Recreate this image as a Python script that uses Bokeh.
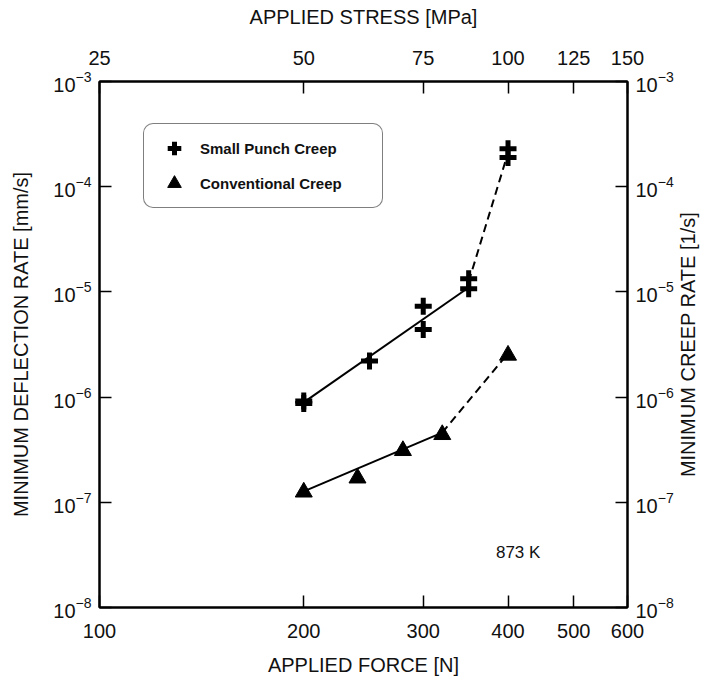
import math
from bokeh.plotting import figure
from bokeh.models import (LogAxis, Range1d, LogScale, FixedTicker, BasicTickFormatter,
                          Legend, LegendItem, Label)
from bokeh.embed import file_html
from bokeh.resources import INLINE

# ---------------- data ----------------
force_ticks = [100, 200, 300, 400, 500, 600]
stress_ticks = [25, 50, 75, 100, 125, 150]
rate_ticks = [1e-8, 1e-7, 1e-6, 1e-5, 1e-4, 1e-3]

sp_force = [200, 200, 250, 300, 300, 350, 350, 400, 400]
sp_rate = [8.7e-7, 9.2e-7, 2.2e-6, 7.3e-6, 4.4e-6, 1.33e-5, 1.07e-5, 2.3e-4, 1.9e-4]

cc_force = [200, 240, 280, 320, 400]
cc_rate = [1.25e-7, 1.7e-7, 3.1e-7, 4.4e-7, 2.5e-6]

sp_fit_force = [200, 350]
sp_fit_rate = [8.9e-7, 1.1e-5]
sp_trend_force = [350, 400]
sp_trend_rate = [1.25e-5, 2.1e-4]

cc_fit_force = [200, 320]
cc_fit_rate = [1.27e-7, 4.6e-7]
cc_trend_force = [320, 400]
cc_trend_rate = [4.6e-7, 2.6e-6]

temp_label = "873 K"
temp_pos = (414, 3.3e-8)

right_title = "MINIMUM CREEP RATE [1/s]"

FONT = "Liberation Sans"

p = figure(width=708, height=678, x_axis_type="log", y_axis_type="log",
           x_range=Range1d(100, 600), y_range=Range1d(1e-8, 1e-3),
           output_backend="svg", toolbar_location=None,
           min_border_left=99, min_border_right=81, min_border_top=81, min_border_bottom=71,
           background_fill_color="white", border_fill_color="white")
p.grid.visible = False
p.outline_line_color = "black"
p.outline_line_width = 2

bottom = p.below[0]
left = p.left[0]

p.extra_x_ranges = {"stress": Range1d(25, 150)}
p.extra_x_scales = {"stress": LogScale()}
p.extra_y_ranges = {"creep": Range1d(1e-8, 1e-3)}
p.extra_y_scales = {"creep": LogScale()}

top = LogAxis(x_range_name="stress", ticker=FixedTicker(ticks=stress_ticks),
              formatter=BasicTickFormatter(use_scientific=False),
              axis_label="APPLIED STRESS [MPa]")
p.add_layout(top, "above")
right = LogAxis(y_range_name="creep", ticker=FixedTicker(ticks=rate_ticks))
p.add_layout(right, "right")

bottom.ticker = FixedTicker(ticks=force_ticks)
bottom.formatter = BasicTickFormatter(use_scientific=False)
bottom.axis_label = "APPLIED FORCE [N]"
left.ticker = FixedTicker(ticks=rate_ticks)
left.axis_label = "MINIMUM DEFLECTION RATE [mm/s]"

for ax in [bottom, left, top, right]:
    ax.major_tick_in = 12
    ax.major_tick_out = 0
    ax.minor_tick_in = 0
    ax.minor_tick_out = 0
    ax.minor_tick_line_color = None
    ax.axis_line_width = 2
    ax.axis_line_color = "black"
    ax.major_tick_line_width = 1.5
    ax.major_tick_line_color = "black"
    ax.major_label_text_font = FONT
    ax.major_label_text_font_size = "20px"
    ax.major_label_text_color = "#111111"
    ax.axis_label_text_font = FONT
    ax.axis_label_text_font_size = "20px"
    ax.axis_label_text_font_style = "normal"
    ax.axis_label_text_color = "#111111"

bottom.major_label_standoff = 16
bottom.axis_label_standoff = 13
top.major_label_standoff = 17
top.axis_label_standoff = 20
left.major_label_standoff = 8
left.axis_label_standoff = 18
right.major_label_standoff = 8

# lines
p.line(sp_fit_force, sp_fit_rate, line_color="black", line_width=2)
p.line(sp_trend_force, sp_trend_rate, line_color="black", line_width=2, line_dash="8 5")
p.line(cc_fit_force, cc_fit_rate, line_color="black", line_width=2)
p.line(cc_trend_force, cc_trend_rate, line_color="black", line_width=2, line_dash="8 5")

r_sp = p.scatter(sp_force, sp_rate, marker="cross", size=17, line_width=5, line_color="black")
r_cc = p.scatter(cc_force, cc_rate, marker="triangle", size=17, fill_color="black", line_color="black")

p.add_layout(Label(x=temp_pos[0], y=temp_pos[1], text=temp_label, text_font=FONT,
                   text_font_size="17px", text_align="center", text_baseline="middle",
                   text_color="#111111"))

p.add_layout(Label(x=11, y=263, x_units="screen", y_units="screen", text=right_title,
                   text_font=FONT, text_font_size="20px", text_align="center",
                   text_baseline="middle", angle=math.pi / 2, text_color="#111111"), "right")

legend = Legend(items=[LegendItem(label="Small Punch Creep", renderers=[r_sp]),
                       LegendItem(label="Conventional Creep", renderers=[r_cc])],
                location=(44, 399), padding=7, spacing=1, glyph_height=34, glyph_width=46,
                label_standoff=3, label_width=175, label_height=20,
                label_text_font=FONT, label_text_font_size="15px", label_text_font_style="bold",
                label_text_color="#111111",
                border_line_color="black", border_line_width=1.5,
                background_fill_color="white", background_fill_alpha=1.0)
if "border_radius" in Legend.properties():
    legend.border_radius = 10
p.add_layout(legend)

open("out.html", "w").write(file_html(p, INLINE))
